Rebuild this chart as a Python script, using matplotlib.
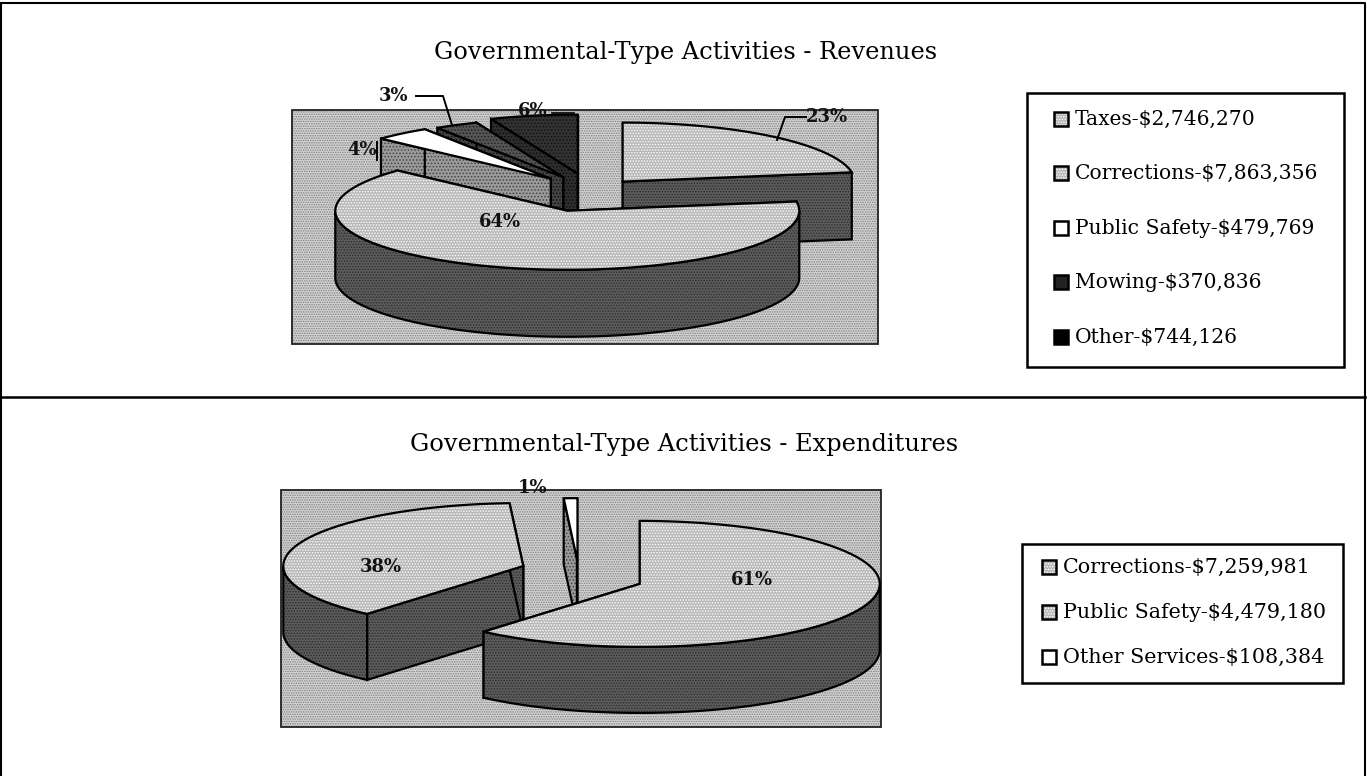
#!/usr/bin/env python3
"""Scanned report page: two exploded 3D pies with boxed legends."""
import numpy as np
import matplotlib
matplotlib.use("Agg")
import matplotlib.pyplot as plt
from matplotlib.patches import Polygon, Rectangle

rev_names = ["Taxes", "Corrections", "Public Safety", "Mowing", "Other"]
rev_values = [2746270, 7863356, 479769, 370836, 744126]
rev_pct = ["23%", "64%", "4%", "3%", "6%"]

exp_names = ["Corrections", "Public Safety", "Other Services"]
exp_values = [7259981, 4479180, 108384]
exp_pct = ["61%", "38%", "1%"]

plt.rcParams["font.family"] = ["DejaVu Serif"]
plt.rcParams["hatch.linewidth"] = 0.7

LIGHT = ("#b8b8b8", "white", "......")
DARK = ("#5c5c5c", "#2c2c2c", "......")
FRAME = ("#d2d2d2", "#808080", ".......")


def fill(ax, pts, style, z):
    fc, hc, hatch = style
    ax.add_patch(Polygon(pts, closed=True, facecolor=fc, edgecolor=hc, hatch=hatch, lw=0, zorder=z))
    ax.add_patch(Polygon(pts, closed=True, fill=False, edgecolor="black", lw=1.6, zorder=z))


def rim(c, rx, ry, a0, a1):
    t = np.radians(np.linspace(a0, a1, 90))
    return np.column_stack([c[0] + rx * np.sin(t), c[1] - ry * np.cos(t)])


def pie3d(ax, values, center, rx, ry, depth, explode, lift, tops, sides, order):
    """Clockwise from 12 o'clock, wedges painted back to front."""
    edges = np.concatenate([[0], np.cumsum(values)]) / sum(values) * 360
    for z, i in enumerate(order):
        a0, a1 = edges[i], edges[i + 1]
        mid = np.radians((a0 + a1) / 2)
        c = (center[0] + explode[i] * rx * np.sin(mid),
             center[1] - explode[i] * ry * np.cos(mid) + lift[i])
        base = 10 + z * 5
        drop = np.array([0, depth])
        arc = rim(c, rx, ry, a0, a1)
        for p in (arc[0], arc[-1]):
            fill(ax, [c, p, p + drop, np.array(c) + drop], sides[i], base)
        lo, hi = max(a0, 90), min(a1, 270)
        if hi > lo:
            front = rim(c, rx, ry, lo, hi)
            fill(ax, np.vstack([front, front[::-1] + drop]), sides[i], base + 1)
        fill(ax, np.vstack([[c], arc]), tops[i], base + 2)


def swatches(ax, names, values, styles, x, ys, box, size):
    ax.add_patch(Rectangle((box[0], box[1]), box[2] - box[0], box[3] - box[1],
                           facecolor="white", edgecolor="black", lw=1.8, zorder=40))
    for name, val, st, y in zip(names, values, styles, ys):
        ax.add_patch(Rectangle((x, y - 7), 14, 14, facecolor=st[0], edgecolor=st[1],
                               hatch=st[2], lw=0, zorder=41))
        ax.add_patch(Rectangle((x, y - 7), 14, 14, fill=False, edgecolor="black", lw=1.8, zorder=42))
        ax.text(x + 21, y, f"{name}-${val:,}", fontsize=size, va="center", ha="left",
                color="black", zorder=42)


fig = plt.figure(figsize=(13.67, 7.76), dpi=100)
ax = fig.add_axes([0, 0, 1, 1])
ax.set_xlim(0, 1367)
ax.set_ylim(776, 0)
ax.axis("off")

# page rules
ax.plot([1, 1365, 1365], [3, 3, 775], color="black", lw=1.5)
ax.plot([1, 1, 1], [3, 775, 775], color="black", lw=1.5)
ax.plot([1, 1365], [397, 397], color="black", lw=1.8)

ax.text(686, 53, "Governmental-Type Activities - Revenues", fontsize=17.4, ha="center", va="center", color="black")
ax.text(684, 444, "Governmental-Type Activities - Expenditures", fontsize=17.4, ha="center", va="center", color="black")

# revenues
ax.add_patch(Rectangle((292, 110), 586, 234, facecolor=FRAME[0], edgecolor=FRAME[1], hatch=FRAME[2], lw=0, zorder=1))
ax.add_patch(Rectangle((292, 110), 586, 234, fill=False, edgecolor="#222222", lw=1.3, zorder=2))
rev_tops = [LIGHT, LIGHT, ("white", "white", ""), ("#555555", "#222222", "....."), ("#333333", "#111111", ".....")]
rev_sides = [DARK, DARK, ("#9a9a9a", "#444444", "....."), ("#444444", "#111111", "....."), ("#2e2e2e", "#0c0c0c", ".....")]
pie3d(ax, rev_values, (591, 191), 232, 59, 67, [0.21, 0.35, 0.27, 0.26, 0.30], [0] * 5,
      rev_tops, rev_sides, [4, 3, 2, 0, 1])

# expenditures
ax.add_patch(Rectangle((281, 490), 600, 237, facecolor=FRAME[0], edgecolor=FRAME[1], hatch=FRAME[2], lw=0, zorder=1))
ax.add_patch(Rectangle((281, 490), 600, 237, fill=False, edgecolor="#222222", lw=1.3, zorder=2))
exp_tops = [LIGHT, LIGHT, ("white", "white", "")]
exp_sides = [DARK, DARK, ("#9a9a9a", "#444444", ".....")]
pie3d(ax, exp_values, (579, 575), 240, 63, 66, [0.27, 0.245, 0.22], [3, -4, 0],
      exp_tops, exp_sides, [2, 1, 0])

# percent labels and leaders
lab = dict(fontsize=13, ha="center", va="center", color="#111111", fontweight="bold", zorder=60)
for txt, x, y in zip(rev_pct, [827, 500, 362, 393, 533], [117, 222, 150, 96, 111]):
    ax.text(x, y, txt, **lab)
for txt, x, y in zip(exp_pct, [752, 381, 533], [580, 567, 488]):
    ax.text(x, y, txt, **lab)
ax.plot([806, 785, 777], [117, 117, 140], color="black", lw=1.4, zorder=55)
ax.plot([416, 443, 452], [96, 96, 125], color="black", lw=1.4, zorder=55)
ax.plot([377, 377], [142, 160], color="black", lw=1.4, zorder=55)
ax.plot([552, 574], [113, 113], color="black", lw=1.2, zorder=55)

# legends
swatches(ax, rev_names, rev_values, [LIGHT, LIGHT, ("white", "white", ""), ("#222222", "black", ""), ("black", "black", "")],
         1054, [119, 173, 228, 282, 337], (1027, 93, 1344, 367), 14.6)
swatches(ax, exp_names, exp_values, [LIGHT, LIGHT, ("white", "white", "")],
         1042, [567, 612, 657], (1022, 544, 1343, 683), 14.9)

fig.savefig("out.png", dpi=100)
